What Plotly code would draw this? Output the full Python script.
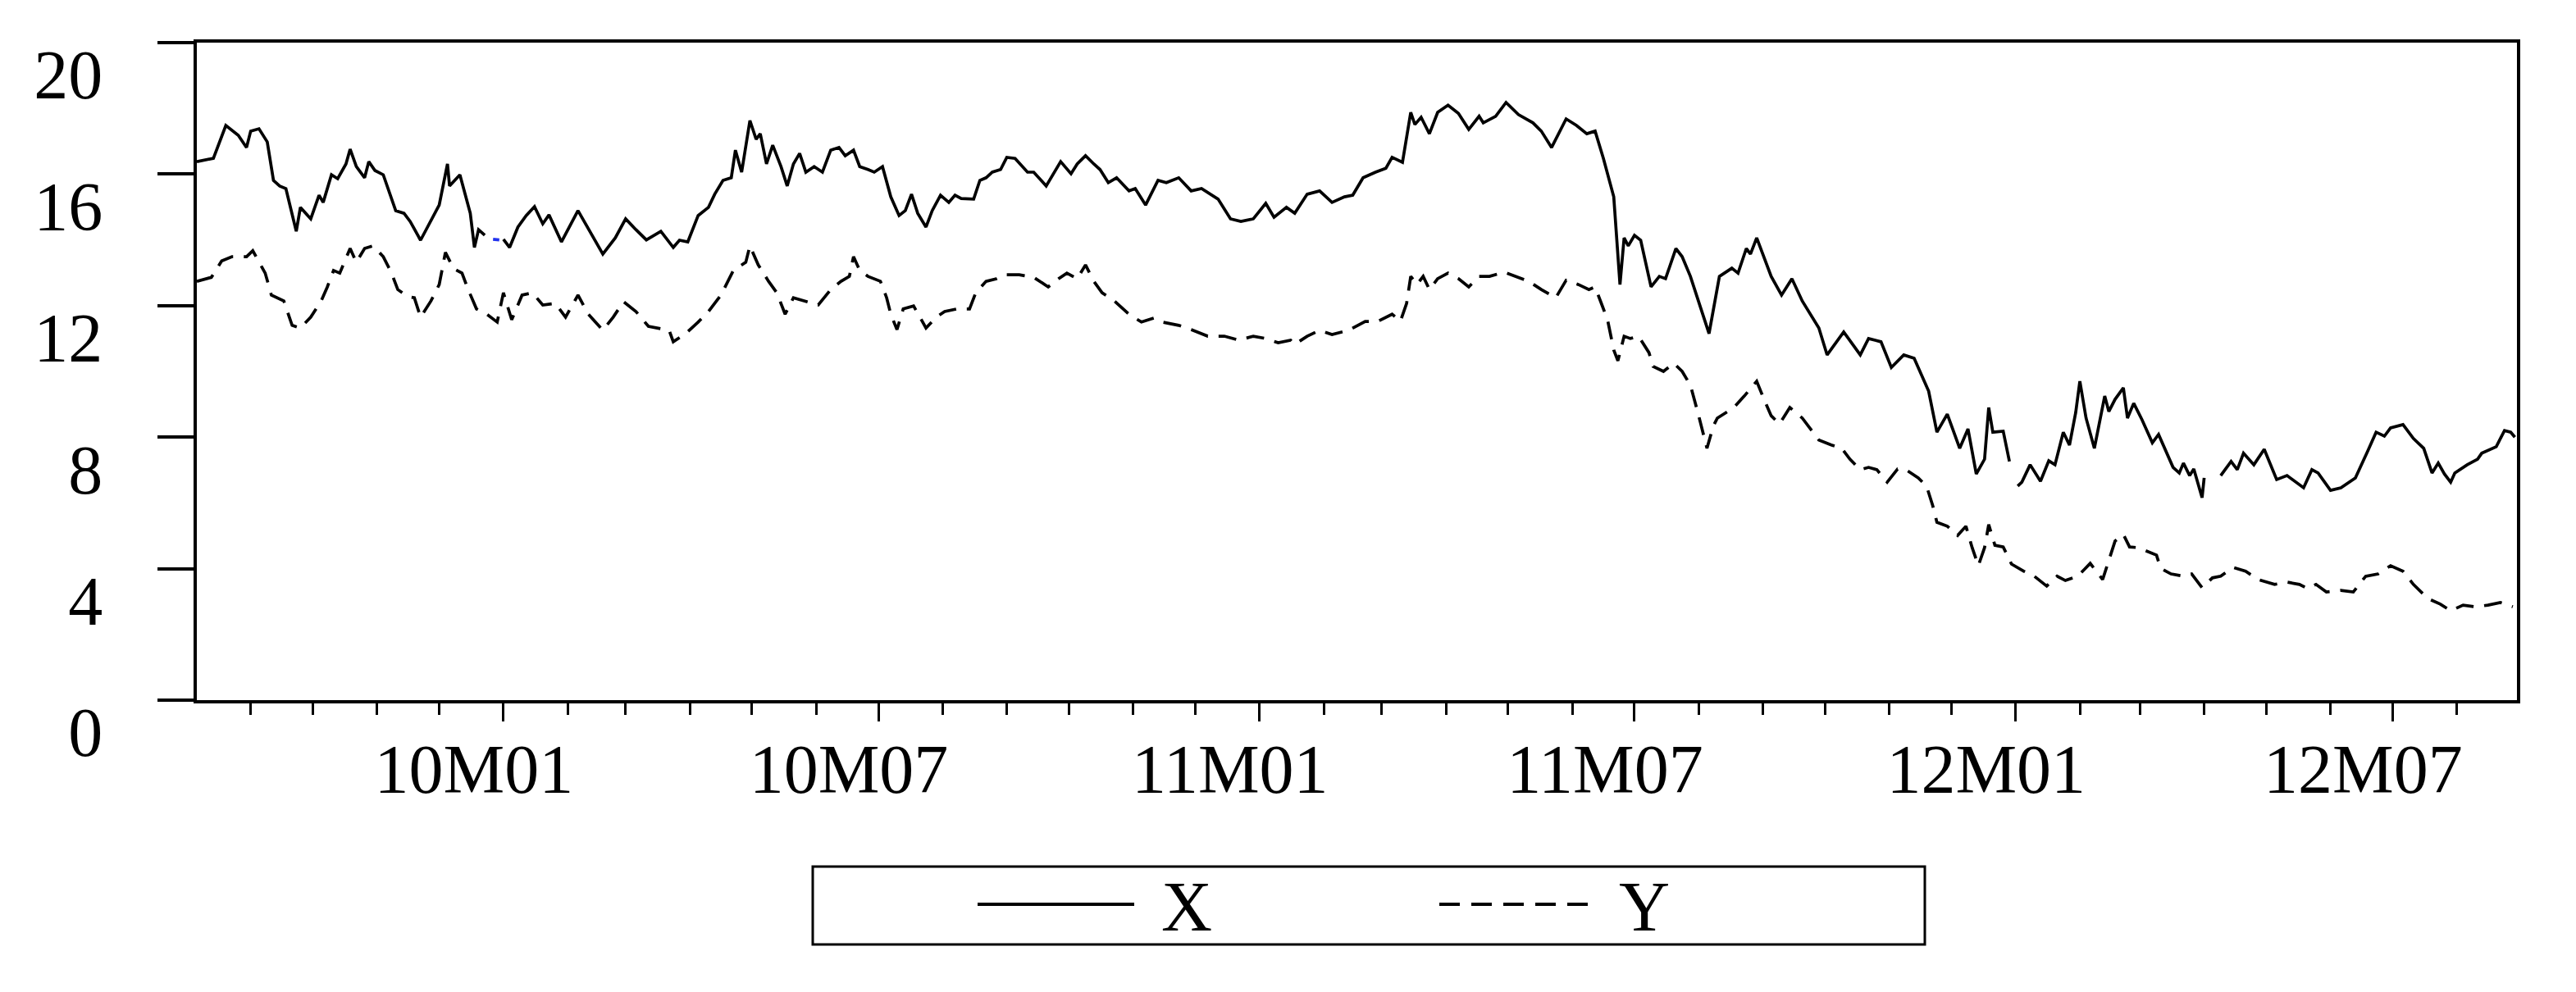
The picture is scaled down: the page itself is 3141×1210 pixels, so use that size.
import plotly.graph_objects as go

# ---------------- data ----------------
x_dates = [
    "2009-08-06", "2009-08-14", "2009-08-20", "2009-08-26", "2009-08-30", "2009-09-01", "2009-09-05",
    "2009-09-09", "2009-09-12", "2009-09-15", "2009-09-18", "2009-09-23", "2009-09-25", "2009-09-30",
    "2009-10-04", "2009-10-06", "2009-10-10", "2009-10-13", "2009-10-17", "2009-10-19", "2009-10-22",
    "2009-10-26", "2009-10-28", "2009-10-31", "2009-11-04", "2009-11-10", "2009-11-14", "2009-11-17",
    "2009-11-22", "2009-12-01", "2009-12-05", "2009-12-06", "2009-12-11", "2009-12-16", "2009-12-18",
    "2009-12-20", "2009-12-23", "2009-12-26", "2010-01-01", "2010-01-04", "2010-01-08", "2010-01-12",
    "2010-01-16", "2010-01-20", "2010-01-23", "2010-01-29", "2010-02-06", "2010-02-12", "2010-02-18",
    "2010-02-24", "2010-03-01", "2010-03-06", "2010-03-11", "2010-03-18", "2010-03-24", "2010-03-27",
    "2010-03-31", "2010-04-05", "2010-04-10", "2010-04-13", "2010-04-17", "2010-04-21", "2010-04-23",
    "2010-04-26", "2010-04-30", "2010-05-03", "2010-05-05", "2010-05-08", "2010-05-11", "2010-05-15",
    "2010-05-18", "2010-05-21", "2010-05-24", "2010-05-27", "2010-05-31", "2010-06-04", "2010-06-08",
    "2010-06-12", "2010-06-15", "2010-06-19", "2010-06-22", "2010-06-26", "2010-06-29", "2010-07-03",
    "2010-07-07", "2010-07-11", "2010-07-14", "2010-07-17", "2010-07-20", "2010-07-24", "2010-07-27",
    "2010-07-31", "2010-08-04", "2010-08-07", "2010-08-10", "2010-08-16", "2010-08-19", "2010-08-22",
    "2010-08-25", "2010-08-29", "2010-09-01", "2010-09-05", "2010-09-11", "2010-09-14", "2010-09-20",
    "2010-09-27", "2010-10-02", "2010-10-05", "2010-10-09", "2010-10-13", "2010-10-16", "2010-10-20",
    "2010-10-24", "2010-10-30", "2010-11-02", "2010-11-07", "2010-11-13", "2010-11-17", "2010-11-23",
    "2010-11-29", "2010-12-04", "2010-12-12", "2010-12-18", "2010-12-23", "2010-12-29", "2011-01-04",
    "2011-01-08", "2011-01-14", "2011-01-18", "2011-01-24", "2011-01-30", "2011-02-05", "2011-02-11",
    "2011-02-15", "2011-02-20", "2011-02-26", "2011-03-03", "2011-03-06", "2011-03-11", "2011-03-15",
    "2011-03-17", "2011-03-20", "2011-03-24", "2011-03-28", "2011-04-02", "2011-04-07", "2011-04-12",
    "2011-04-17", "2011-04-19", "2011-04-25", "2011-04-30", "2011-05-06", "2011-05-13", "2011-05-17",
    "2011-05-22", "2011-05-29", "2011-06-03", "2011-06-08", "2011-06-12", "2011-06-16", "2011-06-21",
    "2011-06-24", "2011-06-26", "2011-06-28", "2011-07-01", "2011-07-04", "2011-07-09", "2011-07-13",
    "2011-07-16", "2011-07-21", "2011-07-24", "2011-07-28", "2011-08-06", "2011-08-11", "2011-08-17",
    "2011-08-20", "2011-08-24", "2011-08-26", "2011-08-29", "2011-09-05", "2011-09-10", "2011-09-15",
    "2011-09-20", "2011-09-28", "2011-10-02", "2011-10-10", "2011-10-18", "2011-10-22", "2011-10-28",
    "2011-11-02", "2011-11-08", "2011-11-13", "2011-11-20", "2011-11-24", "2011-11-29", "2011-12-05",
    "2011-12-09", "2011-12-13", "2011-12-17", "2011-12-19", "2011-12-21", "2011-12-26", "2011-12-29",
    "2011-12-31", "2012-01-02", "2012-01-04", "2012-01-08", "2012-01-13", "2012-01-17", "2012-01-20",
    "2012-01-24", "2012-01-27", "2012-01-30", "2012-02-01", "2012-02-04", "2012-02-08", "2012-02-13",
    "2012-02-15", "2012-02-18", "2012-02-22", "2012-02-24", "2012-02-27", "2012-03-02", "2012-03-07",
    "2012-03-10", "2012-03-13", "2012-03-17", "2012-03-20", "2012-03-22", "2012-03-25", "2012-03-27",
    "2012-03-31", "2012-04-01", "2012-04-05", "2012-04-09", "2012-04-14", "2012-04-17", "2012-04-20",
    "2012-04-25", "2012-04-30", "2012-05-06", "2012-05-11", "2012-05-19", "2012-05-23", "2012-05-26",
    "2012-06-01", "2012-06-06", "2012-06-13", "2012-06-19", "2012-06-23", "2012-06-27", "2012-06-30",
    "2012-07-06", "2012-07-11", "2012-07-16", "2012-07-20", "2012-07-23", "2012-07-26", "2012-07-29",
    "2012-07-31", "2012-08-06", "2012-08-11", "2012-08-13", "2012-08-17", "2012-08-20", "2012-08-24",
    "2012-08-27", "2012-08-29",
]
x_values = [
    16.38, 16.48, 17.48, 17.18, 16.81, 17.31, 17.38,
    16.98, 15.81, 15.64, 15.56, 14.26, 14.99, 14.64,
    15.36, 15.14, 15.98, 15.86, 16.31, 16.76, 16.23,
    15.89, 16.38, 16.11, 15.98, 14.89, 14.81, 14.56,
    13.99, 15.06, 16.31, 15.64, 15.98, 14.81, 13.77,
    14.31, 14.14, None, 14.02, 13.77, 14.39, 14.74,
    15.01, 14.49, 14.76, 13.94, 14.89, 14.24, 13.57,
    14.06, 14.64, 14.31, 14.00, 14.26, 13.77, 13.99,
    13.94, 14.74, 14.99, 15.39, 15.81, 15.89, 16.73,
    16.06, 17.63, 17.06, 17.23, 16.31, 16.88, 16.23,
    15.64, 16.31, 16.63, 16.06, 16.23, 16.06, 16.73,
    16.81, 16.56, 16.73, 16.23, 16.14, 16.06, 16.23,
    15.31, 14.74, 14.89, 15.39, 14.81, 14.39, 14.89,
    15.36, 15.14, 15.36, 15.26, 15.24, 15.81, 15.89,
    16.06, 16.14, 16.51, 16.48, 16.06, 16.06, 15.64,
    16.38, 16.01, 16.31, 16.56, 16.31, 16.14, 15.74,
    15.89, 15.49, 15.56, 15.06, 15.81, 15.74, 15.89,
    15.49, 15.56, 15.24, 14.64, 14.56, 14.64, 15.11,
    14.69, 14.99, 14.81, 15.39, 15.49, 15.14, 15.31,
    15.36, 15.89, 16.06, 16.18, 16.51, 16.36, 17.88,
    17.51, 17.73, 17.23, 17.88, 18.10, 17.85, 17.36,
    17.76, 17.56, 17.76, 18.18, 17.81, 17.56, 17.31,
    16.81, 17.68, 17.48, 17.23, 17.31, 16.48, 15.31,
    12.64, 14.06, 13.82, 14.14, 13.99, 12.57, 12.89,
    12.82, 13.74, 13.49, 12.89, 11.15, 12.89, 13.14,
    12.99, 13.74, 13.57, 14.06, 12.89, 12.32, 12.82,
    12.14, 11.32, 10.50, 11.20, 10.50, 11.00, 10.90,
    10.12, 10.50, 10.40, 9.40, 8.15, 8.70, 7.66,
    8.25, 6.88, 7.33, 8.90, 8.15, 8.18, 7.26,
    None, 6.51, 6.63, 7.16, 6.66, 7.28, 7.16,
    8.15, 7.76, 8.75, 9.70, 8.58, 7.66, 9.25,
    8.78, 9.15, 9.50, 8.58, 9.03, 8.53, 7.83,
    8.08, 7.66, 7.08, 6.91, 7.21, 6.83, 7.03,
    6.16, 6.76, None, 6.83, 7.26, 7.01, 7.51,
    7.16, 7.63, 6.71, 6.83, 6.46, 7.01, 6.91,
    6.38, 6.46, 6.76, 7.58, 8.15, 8.03, 8.28,
    8.38, 7.96, 7.66, 6.91, 7.21, 6.88, 6.63,
    6.91, 7.16, 7.33, 7.51, 7.63, 7.71, 8.20,
    8.15, 8.00,
]

# short blue fragment of X visible in the gap around the turn of 2009/2010
x_blue_dates = ["2009-12-27", "2009-12-30"]
x_blue_values = [14.02, 14.00]

y_dates = [
    "2009-08-06", "2009-08-13", "2009-08-18", "2009-08-23", "2009-08-30", "2009-09-02", "2009-09-08",
    "2009-09-11", "2009-09-17", "2009-09-21", "2009-09-25", "2009-09-30", "2009-10-05", "2009-10-08",
    "2009-10-11", "2009-10-14", "2009-10-19", "2009-10-22", "2009-10-26", "2009-10-30", "2009-11-04",
    "2009-11-08", "2009-11-11", "2009-11-16", "2009-11-19", "2009-11-22", "2009-11-27", "2009-12-01",
    "2009-12-04", "2009-12-08", "2009-12-12", "2009-12-15", "2009-12-19", "2009-12-24", "2009-12-29",
    "2010-01-01", "2010-01-05", "2010-01-10", "2010-01-15", "2010-01-20", "2010-01-26", "2010-01-31",
    "2010-02-06", "2010-02-11", "2010-02-18", "2010-02-23", "2010-02-28", "2010-03-06", "2010-03-12",
    "2010-03-16", "2010-03-22", "2010-03-24", "2010-03-30", "2010-04-05", "2010-04-10", "2010-04-16",
    "2010-04-22", "2010-04-28", "2010-04-30", "2010-05-04", "2010-05-09", "2010-05-13", "2010-05-17",
    "2010-05-21", "2010-05-26", "2010-06-02", "2010-06-08", "2010-06-13", "2010-06-17", "2010-06-19",
    "2010-06-22", "2010-06-26", "2010-07-02", "2010-07-05", "2010-07-07", "2010-07-10", "2010-07-13",
    "2010-07-18", "2010-07-24", "2010-07-29", "2010-08-02", "2010-08-08", "2010-08-14", "2010-08-17",
    "2010-08-22", "2010-08-27", "2010-08-31", "2010-09-07", "2010-09-14", "2010-09-21", "2010-09-26",
    "2010-09-30", "2010-10-05", "2010-10-09", "2010-10-13", "2010-10-17", "2010-10-23", "2010-10-30",
    "2010-11-05", "2010-11-11", "2010-11-15", "2010-11-23", "2010-11-29", "2010-12-07", "2010-12-15",
    "2010-12-22", "2010-12-29", "2011-01-04", "2011-01-10", "2011-01-16", "2011-01-18", "2011-01-24",
    "2011-01-30", "2011-02-05", "2011-02-13", "2011-02-21", "2011-02-27", "2011-03-06", "2011-03-10",
    "2011-03-13", "2011-03-15", "2011-03-18", "2011-03-21", "2011-03-24", "2011-03-28", "2011-04-02",
    "2011-04-07", "2011-04-12", "2011-04-17", "2011-04-22", "2011-04-29", "2011-05-06", "2011-05-11",
    "2011-05-17", "2011-05-24", "2011-05-29", "2011-06-04", "2011-06-09", "2011-06-12", "2011-06-15",
    "2011-06-18", "2011-06-21", "2011-06-23", "2011-06-26", "2011-06-29", "2011-07-03", "2011-07-08",
    "2011-07-10", "2011-07-15", "2011-07-20", "2011-07-24", "2011-07-28", "2011-07-30", "2011-08-01",
    "2011-08-05", "2011-08-08", "2011-08-10", "2011-08-14", "2011-08-18", "2011-08-23", "2011-08-29",
    "2011-09-02", "2011-09-05", "2011-09-09", "2011-09-14", "2011-09-20", "2011-09-24", "2011-09-28",
    "2011-10-04", "2011-10-09", "2011-10-13", "2011-10-18", "2011-10-22", "2011-10-26", "2011-10-31",
    "2011-11-05", "2011-11-09", "2011-11-15", "2011-11-19", "2011-11-22", "2011-11-24", "2011-11-29",
    "2011-12-04", "2011-12-08", "2011-12-11", "2011-12-14", "2011-12-17", "2011-12-19", "2011-12-22",
    "2011-12-26", "2011-12-30", "2012-01-05", "2012-01-10", "2012-01-16", "2012-01-21", "2012-01-25",
    "2012-01-31", "2012-02-06", "2012-02-12", "2012-02-18", "2012-02-22", "2012-02-25", "2012-02-29",
    "2012-03-09", "2012-03-11", "2012-03-16", "2012-03-22", "2012-03-26", "2012-03-31", "2012-04-05",
    "2012-04-09", "2012-04-15", "2012-04-21", "2012-04-27", "2012-05-05", "2012-05-11", "2012-05-17",
    "2012-05-21", "2012-05-25", "2012-05-30", "2012-06-06", "2012-06-12", "2012-06-18", "2012-06-24",
    "2012-06-30", "2012-07-06", "2012-07-11", "2012-07-18", "2012-07-24", "2012-07-29", "2012-08-04",
    "2012-08-10", "2012-08-16", "2012-08-22", "2012-08-28",
]
y_values = [
    12.74, 12.86, 13.36, 13.49, 13.49, 13.67, 12.99,
    12.32, 12.14, 11.40, 11.32, 11.65, 12.14, 12.57,
    13.07, 12.99, 13.74, 13.32, 13.74, 13.82, 13.49,
    12.99, 12.49, 12.27, 12.24, 11.65, 12.14, 12.64,
    13.62, 13.12, 12.99, 12.49, 11.90, 11.74, 11.50,
    12.39, 11.57, 12.32, 12.39, 12.02, 12.07, 11.65,
    12.32, 11.74, 11.25, 11.65, 12.12, 11.82, 11.37,
    11.32, 11.25, 10.90, 11.15, 11.50, 11.82, 12.32,
    13.07, 13.32, 13.82, 13.24, 12.74, 12.39, 11.74,
    12.24, 12.14, 12.02, 12.49, 12.74, 12.89, 13.49,
    13.07, 12.89, 12.74, 12.24, 11.74, 11.27, 11.90,
    11.99, 11.32, 11.65, 11.82, 11.90, 11.90, 12.39,
    12.74, 12.82, 12.94, 12.94, 12.86, 12.57, 12.82,
    12.99, 12.82, 13.24, 12.74, 12.39, 12.14, 11.74,
    11.50, 11.62, 11.50, 11.40, 11.27, 11.07, 11.07,
    10.95, 11.07, 11.00, 10.87, 10.95, 10.82, 11.07,
    11.25, 11.12, 11.25, 11.52, 11.52, 11.74, 11.52,
    12.07, 12.89, 12.64, 12.89, 12.49, 12.82, 12.99,
    12.82, 12.57, 12.89, 12.89, 13.02, 12.86, 12.74,
    12.49, 12.24, 12.77, 12.64, 12.49, 12.57, 12.07,
    11.57, 10.65, 10.32, 11.07, 11.00, 11.07, 10.57,
    10.15, 10.00, 10.25, 10.00, 9.58, 9.15, 8.65,
    7.66, 8.33, 8.58, 8.75, 8.90, 9.25, 9.70,
    9.08, 8.65, 8.40, 8.90, 8.58, 8.25, 7.91,
    7.76, 7.66, 7.33, 7.01, 7.08, 7.01, 6.63,
    7.03, 7.01, 6.76, 6.51, 5.91, 5.41, 5.29,
    5.01, 5.29, 4.64, 4.09, 4.64, 5.34, 4.71,
    4.66, 4.14, 3.92, 3.77, 3.47, 3.77, 3.64,
    3.77, 4.16, 3.67, 4.84, 5.04, 4.66, 4.64,
    4.41, 4.01, 3.84, 3.77, 3.84, 3.42, 3.72,
    3.77, 4.04, 3.92, 3.67, 3.52, 3.59, 3.52,
    3.39, 3.52, 3.29, 3.34, 3.29, 3.77, 3.84,
    4.09, 3.92, 3.52, 3.09, 2.92, 2.72, 2.89,
    2.84, 2.89, 2.97, 2.84,
]

tick_vals = ["2010-01-01", "2010-07-01", "2011-01-01", "2011-07-01", "2012-01-01", "2012-07-01"]
tick_text = ["10M01", "10M07", "11M01", "11M07", "12M01", "12M07"]
y_ticks = [0, 4, 8, 12, 16, 20]
series_names = ["X", "Y"]

# ---------------- figure ----------------
# the page body adds an 8px offset, so the figure is 8px smaller and margins shifted
FONT = "Liberation Serif"
OFF = 8
W, H = 3141 - OFF, 1210 - OFF
ML, MT = 240 - OFF, 52 - OFF
PW, PH = 2829, 802
MR, MB = W - ML - PW, H - MT - PH

fig = go.Figure()
fig.add_trace(go.Scatter(x=x_dates, y=x_values, mode="lines", name=series_names[0],
                         line=dict(color="black", width=3.7), connectgaps=False, showlegend=False))
fig.add_trace(go.Scatter(x=x_blue_dates, y=x_blue_values, mode="lines", name=series_names[0],
                         line=dict(color="#2233ee", width=3.7), showlegend=False))
fig.add_trace(go.Scatter(x=y_dates, y=y_values, mode="lines", name=series_names[1],
                         line=dict(color="black", width=3.7, dash="22px,13px"), showlegend=False))

fig.update_layout(
    width=W, height=H,
    margin=dict(l=ML, r=MR, t=MT, b=MB, pad=0),
    paper_bgcolor="white", plot_bgcolor="white",
    font=dict(family=FONT, size=84, color="black"),
    showlegend=False,
)

fig.update_xaxes(
    type="date", range=["2009-08-06", "2012-08-30"],
    tickmode="array", tickvals=tick_vals, ticktext=tick_text,
    ticks="outside", ticklen=22, tickwidth=3, tickcolor="black",
    minor=dict(dtick="M1", tick0="2009-09-01", ticks="outside", ticklen=14,
               tickwidth=3, tickcolor="black", showgrid=False),
    showline=True, linewidth=4, linecolor="black", mirror=True,
    showgrid=False, zeroline=False,
    tickfont=dict(family=FONT, size=84, color="black"),
    ticklabelshift=-36, ticklabelstandoff=-14,
)
fig.update_yaxes(
    range=[0, 20], tickmode="array", tickvals=y_ticks,
    ticks="outside", ticklen=44, tickwidth=4, tickcolor="black",
    showline=True, linewidth=4, linecolor="black", mirror=True,
    showgrid=False, zeroline=False,
    tickfont=dict(family=FONT, size=84, color="black"),
    ticklabelshift=39, ticklabelstandoff=50,
)

# ---------------- hand-drawn legend box (matches the long line samples) ----------------
def px_x(px):
    return (px - OFF - ML) / PW

def px_y(py):
    return (H - MB - (py - OFF)) / PH

fig.add_shape(type="rect", xref="paper", yref="paper",
              x0=px_x(991), x1=px_x(2347), y0=px_y(1152), y1=px_y(1057),
              line=dict(color="black", width=3), fillcolor="white")
fig.add_shape(type="line", xref="paper", yref="paper",
              x0=px_x(1192), x1=px_x(1383), y0=px_y(1103), y1=px_y(1103),
              line=dict(color="black", width=4))
fig.add_shape(type="line", xref="paper", yref="paper",
              x0=px_x(1755), x1=px_x(1938), y0=px_y(1103), y1=px_y(1103),
              line=dict(color="black", width=4, dash="25px,14px"))
fig.add_annotation(xref="paper", yref="paper", x=px_x(1414), y=px_y(1106),
                   text=series_names[0], showarrow=False, xanchor="left", yanchor="middle",
                   font=dict(family=FONT, size=86, color="black"))
fig.add_annotation(xref="paper", yref="paper", x=px_x(1972), y=px_y(1106),
                   text=series_names[1], showarrow=False, xanchor="left", yanchor="middle",
                   font=dict(family=FONT, size=86, color="black"))

fig.write_html("out.html")
